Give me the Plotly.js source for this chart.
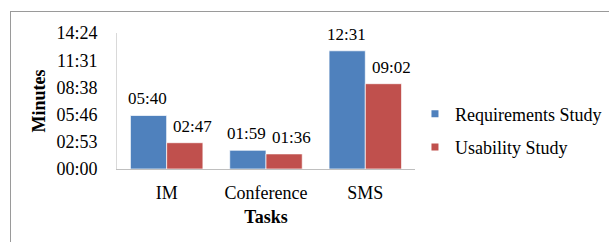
<!DOCTYPE html>
<html>
<head>
<meta charset="utf-8">
<script src="https://cdn.plot.ly/plotly-3.0.1.min.js"></script>
<style>
html,body{margin:0;padding:0;background:#fff;overflow:hidden;}
#frame{position:absolute;left:10px;top:11px;width:640px;height:280px;border:1.5px solid #9a9a9a;box-sizing:border-box;}
#chart{position:absolute;left:0;top:0;width:609px;height:242px;}
</style>
</head>
<body>
<div id="frame"></div>
<div id="chart"></div>
<script>
const categories = ["IM", "Conference", "SMS"];
const seriesNames = ["Requirements Study", "Usability Study"];
// durations in seconds
const requirementsSec = [340, 119, 751];
const usabilitySec = [167, 96, 542];
const requirementsLabels = ["05:40", "01:59", "12:31"];
const usabilityLabels = ["02:47", "01:36", "09:02"];
const yTickVals = [0, 172.8, 345.6, 518.4, 691.2, 864];
const yTickText = ["00:00", "02:53", "05:46", "08:38", "11:31", "14:24"];
const colors = ["#4f81bd", "#c0504d"];

const font = "Liberation Serif";

const bar = (name, vals, color) => ({
  type: "bar", name: name, x: categories, y: vals,
  marker: {color: color, line: {color: "rgba(255,255,255,0.7)", width: 1}},
  showlegend: false, hoverinfo: "none"
});
const legendEntry = (name, color, grp) => ({
  type: "scatter", mode: "markers", name: name, x: [null], y: [null],
  marker: {symbol: "square", size: 7, color: color}, legendgroup: grp, showlegend: true
});

const data = [
  bar(seriesNames[0], requirementsSec, colors[0]),
  bar(seriesNames[1], usabilitySec, colors[1]),
  legendEntry(seriesNames[0], colors[0], "a"),
  legendEntry(seriesNames[1], colors[1], "b")
];

const labelAnn = (vals, labels, dx) => categories.map((c, i) => ({
  x: c, y: vals[i], xref: "x", yref: "y", text: labels[i],
  showarrow: false, xanchor: "center", yanchor: "bottom", xshift: dx, yshift: 5,
  font: {family: font, size: 17, color: "#000"}
}));

const layout = {
  width: 609, height: 242,
  margin: {l: 117, r: 194, t: 33, b: 73},
  paper_bgcolor: "rgba(0,0,0,0)", plot_bgcolor: "rgba(0,0,0,0)",
  barmode: "group", bargap: 0.27, bargroupgap: 0,
  font: {family: font, size: 18, color: "#000"},
  xaxis: {
    type: "category", showline: true, linecolor: "#bfbfbf", linewidth: 1,
    ticks: "", showgrid: false, zeroline: false, ticklabelstandoff: 7,
    tickfont: {family: font, size: 18},
    title: {text: "<b>Tasks</b>", font: {family: font, size: 18}, standoff: 8}
  },
  yaxis: {
    range: [0, 864], tickvals: yTickVals, ticktext: yTickText,
    showline: true, linecolor: "#d9d9d9", linewidth: 1,
    ticks: "", showgrid: false, zeroline: false, ticklabelstandoff: 15,
    tickfont: {family: font, size: 18},
    title: {text: "<b>Minutes</b>", font: {family: font, size: 18}, standoff: 6}
  },
  annotations: labelAnn(requirementsSec, requirementsLabels, -19).concat(labelAnn(usabilitySec, usabilityLabels, 26)),
  legend: {
    xref: "container", yref: "container",
    x: 0.6814, xanchor: "left", y: 0.4607, yanchor: "middle",
    font: {family: font, size: 18}, tracegroupgap: 7,
    bgcolor: "rgba(0,0,0,0)", borderwidth: 0
  },
  showlegend: true
};

Plotly.newPlot("chart", data, layout, {displayModeBar: false, staticPlot: true});
</script>
</body>
</html>
